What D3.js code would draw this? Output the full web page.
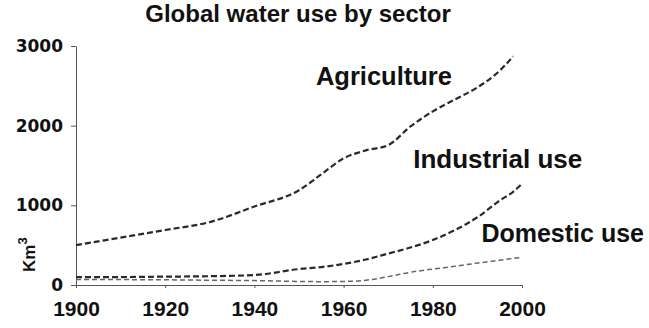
<!DOCTYPE html>
<html>
<head>
<meta charset="utf-8">
<script src="https://cdn.jsdelivr.net/npm/d3@7/dist/d3.min.js"></script>
<style>
  html, body { margin: 0; padding: 0; background: #fff; }
  svg { display: block; }
</style>
</head>
<body>
<script>
// ---- data ----
const years       = [1900, 1910, 1920, 1930, 1940, 1950, 1955, 1960, 1965, 1970, 1975, 1980, 1985, 1990, 1995, 1998, 2000];
const agriculture = [500,  595,  690,  790,  985,  1190, 1390, 1590, 1690, 1755, 1990, 2180, 2330, 2480, 2690, 2870, null];
const industrial  = [100,  100,  105,  110,  125,  200,  225,  265,  320,  395,  470,  565,  690,  850,  1060, 1170, 1270];
const domestic    = [70,   68,   65,   60,   55,   45,   42,   45,   60,   105,  160,  200,  235,  275,  310,  335,  345];
const xTicks = [1900, 1920, 1940, 1960, 1980, 2000];
const yTicks = [0, 1000, 2000, 3000];
const title = "Global water use by sector";
const seriesNames = ["Agriculture", "Industrial use", "Domestic use"];

// ---- chart ----
const W = 649, H = 328;
const svg = d3.select("body").append("svg").attr("width", W).attr("height", H);
svg.append("rect").attr("width", W).attr("height", H).attr("fill", "#fff");

const x = d3.scaleLinear().domain([1900, 2000]).range([76, 522]);
const y = d3.scaleLinear().domain([0, 3000]).range([285, 46]);

const axisColor = "#555";

// y axis
const gy = svg.append("g").attr("transform", "translate(76,0)")
  .call(d3.axisLeft(y).tickValues(yTicks).tickSize(5).tickSizeOuter(0).tickPadding(8).tickFormat(d3.format("d")));
gy.select(".domain").attr("stroke", axisColor);
gy.selectAll(".tick line").attr("stroke", axisColor);
gy.selectAll(".tick text").attr("font-family", "DejaVu Sans").attr("font-weight", "bold")
  .attr("font-size", 17).attr("fill", "#111");

// x axis
const gx = svg.append("g").attr("transform", "translate(0,285)")
  .call(d3.axisBottom(x).tickValues(xTicks).tickSize(3).tickSizeOuter(0).tickPadding(13).tickFormat(d3.format("d")));
gx.select(".domain").attr("stroke", axisColor);
gx.selectAll(".tick line").attr("stroke", axisColor);
gx.selectAll(".tick text").attr("font-family", "Liberation Sans").attr("font-weight", "bold")
  .attr("font-size", 21).attr("fill", "#111");

// lines
const series = [
  { name: seriesNames[0], values: agriculture, color: "#2a2a2a", width: 2.2, dash: "6,3" },
  { name: seriesNames[1], values: industrial,  color: "#2a2a2a", width: 2.2, dash: "6,3" },
  { name: seriesNames[2], values: domestic,    color: "#666",    width: 1.5, dash: "5,3" }
];
const line = d3.line()
  .defined(d => d[1] != null)
  .x(d => x(d[0])).y(d => y(d[1]))
  .curve(d3.curveMonotoneX);

series.forEach(s => {
  svg.append("path")
    .datum(years.map((yr, i) => [yr, s.values[i]]))
    .attr("fill", "none")
    .attr("stroke", s.color)
    .attr("stroke-width", s.width)
    .attr("stroke-dasharray", s.dash)
    .attr("d", line);
});

// title
svg.append("text")
  .attr("x", 298).attr("y", 22)
  .attr("text-anchor", "middle")
  .attr("font-family", "Liberation Sans").attr("font-weight", "bold")
  .attr("font-size", 24).attr("fill", "#111")
  .text(title);

// series labels (anchored in data coordinates)
const labelPos = [[1953.8, 2510], [1975.6, 1468], [1990.9, 543]];
const labelSize = [25.5, 26, 25];
seriesNames.forEach((n, i) => {
  svg.append("text")
    .attr("x", x(labelPos[i][0])).attr("y", y(labelPos[i][1]))
    .attr("font-family", "Liberation Sans").attr("font-weight", "bold")
    .attr("font-size", labelSize[i]).attr("fill", "#111")
    .text(n);
});

// y unit label Km³
const unit = svg.append("text")
  .attr("transform", "translate(35,272) rotate(-90)")
  .attr("font-family", "Liberation Sans").attr("font-weight", "bold")
  .attr("font-size", 17).attr("fill", "#111");
unit.append("tspan").text("Km");
unit.append("tspan").attr("dy", -8).attr("font-size", 13).text("3");
</script>
</body>
</html>
